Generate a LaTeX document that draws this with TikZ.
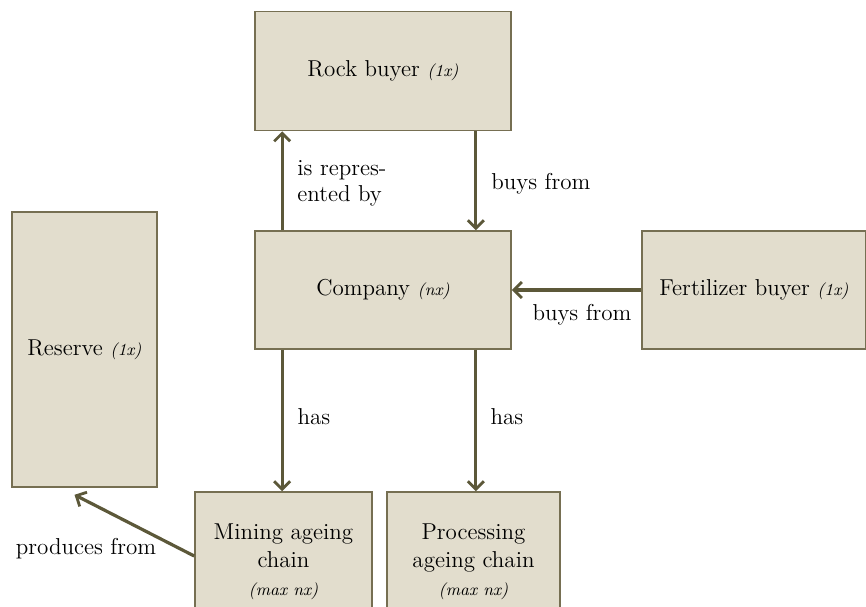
\documentclass[tikz,border=0pt]{standalone}
\usetikzlibrary{arrows.meta}
\definecolor{boxfill}{RGB}{226,221,205}
\definecolor{boxline}{RGB}{118,111,82}
\definecolor{arrcol}{RGB}{92,88,57}
\tikzset{
  box/.style={draw=boxline, line width=0.8pt, fill=boxfill, inner sep=2pt, align=center, font=\fontsize{11.5}{14}\selectfont},
  arr/.style={draw=arrcol, line width=1.6pt, -{Straight Barb[length=4pt,width=8pt,line width=1.4pt]}},
  lbl/.style={inner sep=0pt, font=\fontsize{11.5}{13}\selectfont},
}
\newcommand{\mult}[1]{{\itshape\fontsize{8.5}{10}\selectfont(#1)}}
\begin{document}
\begin{tikzpicture}[x=0.5pt,y=-0.5pt]
\useasboundingbox (0,0) rectangle (866,606);
\node[box, minimum width=128pt, minimum height=59.5pt] (rock) at (383,71) {Rock buyer \mult{1x}};
\node[box, minimum width=128pt, minimum height=59pt] (company) at (383,290) {Company \mult{nx}};
\node[box, minimum width=112pt, minimum height=59pt] (fert) at (754,290) {Fertilizer buyer \mult{1x}};
\node[box, minimum width=72.5pt, minimum height=137.5pt] (reserve) at (84.5,349.5) {Reserve \mult{1x}};
\node[box, minimum width=88.5pt, minimum height=70pt] (mining) at (283.5,562) {Mining ageing\\chain\\\mult{max nx}};
\node[box, minimum width=86.5pt, minimum height=70pt] (proc) at (473.5,562) {Processing\\ageing chain\\\mult{max nx}};

\draw[arr] ([xshift=14pt]company.north west) -- ([xshift=14pt]rock.south west);
\draw[arr] ([xshift=-18pt]rock.south east) -- ([xshift=-18pt]company.north east);
\draw[arr] (fert.west) -- (company.east);
\draw[arr] ([xshift=14pt]company.south west) -- ([xshift=14pt]company.south west |- mining.north);
\draw[arr] ([xshift=-18pt]company.south east) -- ([xshift=-18pt]company.south east |- proc.north);
\draw[arr] ([yshift=3pt]mining.west) -- ([xshift=-5pt,yshift=-3.5pt]reserve.south);

\node[lbl, anchor=west, align=left] (l1) at (297,183) {is repres-\\ented by};
\node[lbl, anchor=west] (l2) at (491,184) {buys from};
\node[lbl] (l3) at (582,315) {buys from};
\node[lbl] (l4) at (314,417) {has};
\node[lbl] (l5) at (507,417) {has};
\node[lbl] (l6) at (86,549) {produces from};
\end{tikzpicture}
\end{document}
